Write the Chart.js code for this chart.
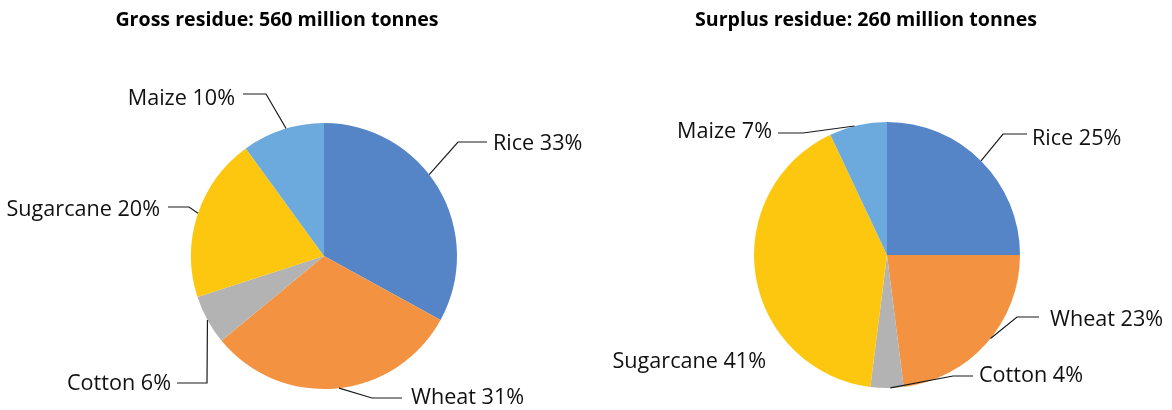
<!DOCTYPE html>
<html>
<head>
<meta charset="utf-8">
<script src="https://cdn.jsdelivr.net/npm/chart.js@4.4.1/dist/chart.umd.min.js"></script>
<style>
  html, body { margin: 0; padding: 0; background: #ffffff; }
  #wrap { position: relative; width: 1172px; height: 410px; }
  #wrap canvas { position: absolute; left: 0; top: 0; }
</style>
</head>
<body>
<div id="wrap">
  <canvas id="gross" width="1172" height="410"></canvas>
  <canvas id="surplus" width="1172" height="410"></canvas>
</div>
<script>
// ---- data ----
const categories = ['Rice', 'Wheat', 'Cotton', 'Sugarcane', 'Maize'];
const grossShares = [33, 31, 6, 20, 10];      // % of 560 million tonnes
const surplusShares = [25, 23, 4, 41, 7];     // % of 260 million tonnes
const grossTitle = 'Gross residue: 560 million tonnes';
const surplusTitle = 'Surplus residue: 260 million tonnes';

// ---- styles ----
const sliceColors = ['#5585c7', '#f39342', '#b3b3b3', '#fdc70f', '#6caadd'];
const FONT = '"Open Sans", "Noto Sans", sans-serif';

// ---- label layout (text anchor, leader elbow, position along slice) ----
const grossLayout = {
  titleX: 277, titleY: 26,
  labels: [
    { f: 0.44, align: 'left',  tx: 493, ty: 150, line: [[487, 142], [458, 142]] },
    { f: 0.49, align: 'left',  tx: 411, ty: 404, line: [[402, 398], [372, 398]] },
    { f: 0.50, align: 'right', tx: 171, ty: 390, line: [[177, 383], [207, 383]] },
    { f: 0.51, align: 'right', tx: 160, ty: 216, line: [[168, 207], [189, 207]] },
    { f: 0.54, align: 'right', tx: 235, ty: 105, line: [[243, 94], [266, 94]] }
  ]
};
const surplusLayout = {
  titleX: 866, titleY: 26,
  labels: [
    { f: 0.50, align: 'left',  tx: 1032, ty: 145, line: [[1027, 134], [1003, 134]] },
    { f: 0.47, align: 'left',  tx: 1050, ty: 326, line: [[1039, 317], [1017, 317]] },
    { f: 0.40, align: 'left',  tx: 979,  ty: 382, line: [[973, 376], [953, 376]] },
    { f: 0.50, align: 'right', tx: 766,  ty: 368, line: null },
    { f: 0.44, align: 'right', tx: 772,  ty: 138, line: [[778, 133], [803, 133]] }
  ]
};

const labelPlugin = {
  id: 'leaderLabels',
  afterDatasetsDraw(chart, args, opts) {
    const ctx = chart.ctx;
    const layout = opts.layout;
    const meta = chart.getDatasetMeta(0);
    const values = chart.data.datasets[0].data;
    ctx.save();
    // title
    ctx.font = 'bold 19.6px ' + FONT;
    ctx.fillStyle = '#000000';
    ctx.textAlign = 'center';
    ctx.textBaseline = 'alphabetic';
    ctx.fillText(opts.title, layout.titleX, layout.titleY);
    // labels
    ctx.font = '21.6px ' + FONT;
    ctx.fillStyle = '#111111';
    ctx.strokeStyle = '#1a1a1a';
    ctx.lineWidth = 1.2;
    meta.data.forEach((arc, i) => {
      const L = layout.labels[i];
      const p = arc.getProps(['x', 'y', 'startAngle', 'endAngle', 'outerRadius'], true);
      const a = p.startAngle + L.f * (p.endAngle - p.startAngle);
      const ax = p.x + p.outerRadius * Math.cos(a);
      const ay = p.y + p.outerRadius * Math.sin(a);
      if (L.line) {
        ctx.beginPath();
        ctx.moveTo(L.line[0][0], L.line[0][1]);
        ctx.lineTo(L.line[1][0], L.line[1][1]);
        ctx.lineTo(ax, ay);
        ctx.stroke();
      }
      ctx.textAlign = L.align;
      ctx.fillText(chart.data.labels[i] + ' ' + values[i] + '%', L.tx, L.ty);
    });
    ctx.restore();
  }
};

function makePie(id, values, title, layout, padding) {
  return new Chart(document.getElementById(id), {
    type: 'pie',
    data: {
      labels: categories,
      datasets: [{
        data: values,
        backgroundColor: sliceColors,
        borderWidth: 0
      }]
    },
    options: {
      responsive: false,
      animation: false,
      devicePixelRatio: 1,
      rotation: 0,
      layout: { padding: padding },
      events: [],
      plugins: {
        legend: { display: false },
        tooltip: { enabled: false },
        title: { display: false },
        leaderLabels: { title: title, layout: layout }
      }
    },
    plugins: [labelPlugin]
  });
}

makePie('gross', grossShares, grossTitle, grossLayout, { top: 123, bottom: 21, left: 0, right: 524 });
makePie('surplus', surplusShares, surplusTitle, surplusLayout, { top: 122, bottom: 22, left: 602, right: 0 });
</script>
</body>
</html>
